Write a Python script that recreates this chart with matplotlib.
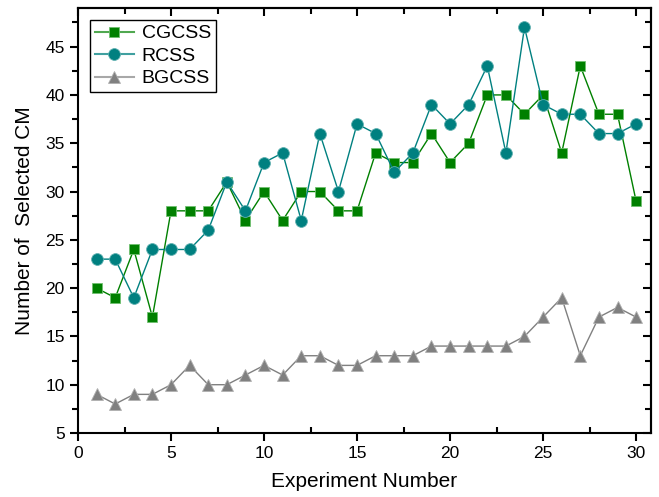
import matplotlib
matplotlib.use("Agg")
import matplotlib.pyplot as plt
from matplotlib.ticker import MultipleLocator

plt.rcParams['font.family'] = ['Liberation Sans', 'DejaVu Sans']

experiment = list(range(1, 31))
cgcss = [20, 19, 24, 17, 28, 28, 28, 31, 27, 30, 27, 30, 30, 28, 28,
         34, 33, 33, 36, 33, 35, 40, 40, 38, 40, 34, 43, 38, 38, 29]
rcss = [23, 23, 19, 24, 24, 24, 26, 31, 28, 33, 34, 27, 36, 30, 37,
        36, 32, 34, 39, 37, 39, 43, 34, 47, 39, 38, 38, 36, 36, 37]
bgcss = [9, 8, 9, 9, 10, 12, 10, 10, 11, 12, 11, 13, 13, 12, 12,
         13, 13, 13, 14, 14, 14, 14, 14, 15, 17, 19, 13, 17, 18, 17]

fig = plt.figure(figsize=(6.59, 4.97), dpi=100)
ax = fig.add_axes([78/659, 64/497, 573/659, 425/497])

ax.plot(experiment, cgcss, color="#008000", lw=1, marker="s", ms=7,
        mfc="#008000", mec="#70c070", mew=0.6, label="CGCSS")
ax.plot(experiment, rcss, color="#008080", lw=1, marker="o", ms=8.5,
        mfc="#008080", mec="#60b0b0", mew=0.6, label="RCSS")
ax.plot(experiment, bgcss, color="#808080", lw=1, marker="^", ms=8.5,
        mfc="#808080", mec="#b0b0b0", mew=0.6, label="BGCSS")

ax.set_xlim(0, 30.8)
ax.set_ylim(5, 49)
ax.xaxis.set_major_locator(MultipleLocator(5))
ax.xaxis.set_minor_locator(MultipleLocator(2.5))
ax.yaxis.set_major_locator(MultipleLocator(5))
ax.yaxis.set_minor_locator(MultipleLocator(2.5))

for s in ax.spines.values():
    s.set_linewidth(1.5)

ax.tick_params(axis="both", which="major", direction="out", length=6, width=1.5,
               labelsize=12.5, top=False, right=False)
ax.tick_params(axis="y", which="minor", direction="out", length=4, width=1.5)
ax.tick_params(axis="x", which="minor", direction="in", length=4, width=1.5)

# inward ticks mirrored on top and right
top = ax.secondary_xaxis("top")
top.xaxis.set_major_locator(MultipleLocator(5))
top.xaxis.set_minor_locator(MultipleLocator(2.5))
top.tick_params(which="major", direction="in", length=6, width=1.5, labeltop=False)
top.tick_params(which="minor", direction="in", length=4, width=1.5)
right = ax.secondary_yaxis("right")
right.yaxis.set_major_locator(MultipleLocator(5))
right.yaxis.set_minor_locator(MultipleLocator(2.5))
right.tick_params(which="major", direction="in", length=6, width=1.5, labelright=False)
right.tick_params(which="minor", direction="in", length=4, width=1.5)
for sec in (top, right):
    for s in sec.spines.values():
        s.set_linewidth(1.5)

ax.set_xlabel("Experiment Number", fontsize=15, labelpad=8)
ax.set_ylabel("Number of  Selected CM", fontsize=15, labelpad=8)

leg = ax.legend(loc="upper left", bbox_to_anchor=(0.021, 0.972), fontsize=14,
                fancybox=False, edgecolor="black", framealpha=1,
                handlelength=2.0, handletextpad=0.4, borderpad=0.25,
                labelspacing=0.25, borderaxespad=0)
leg.get_frame().set_linewidth(1)
legend_line_colors = ["#50a850", "#40a0a0", "#a8a8a8"]
for h, c in zip(leg.get_lines(), legend_line_colors):
    h.set_color(c)
    h.set_linewidth(1.5)

fig.savefig("out.png", dpi=100)
